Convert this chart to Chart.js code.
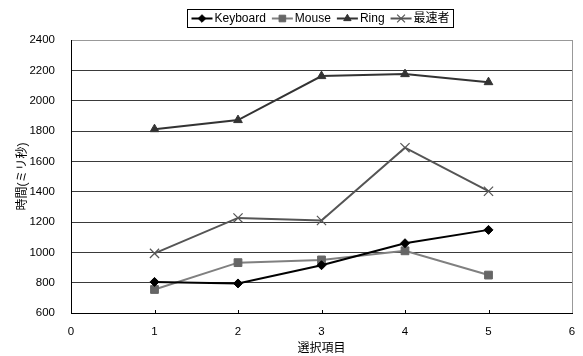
<!DOCTYPE html>
<html>
<head>
<meta charset="utf-8">
<script src="https://cdn.jsdelivr.net/npm/chart.js@4/dist/chart.umd.min.js"></script>
<style>
  html, body { margin: 0; padding: 0; background: #fff; }
  #wrap { width: 583px; height: 356px; }
</style>
</head>
<body>
<div id="wrap"><canvas id="c" width="583" height="356"></canvas></div>
<script>
// Response time per selection item, by input method
const xValues = [1, 2, 3, 4, 5];
const seriesNames = ['Keyboard', 'Mouse', 'Ring', '最速者'];
const keyboard = [805, 795, 915, 1060, 1148];
const mouse = [755, 932, 950, 1010, 850];
const ring = [1812, 1872, 2162, 2175, 2122];
const fastest = [993, 1227, 1210, 1690, 1403];
const yMin = 600, yMax = 2400, yStep = 200;
const xMin = 0, xMax = 6, xStep = 1;
const xTitle = '選択項目';
const yTitle = '時間(ミリ秒)';

const FONT = '"Liberation Sans", "Noto Sans CJK JP", sans-serif';
Chart.defaults.font.family = FONT;
Chart.defaults.color = '#000';

const styles = [
  { line: '#000000', fill: '#000000', point: 'rectRot', r: 4.5, pbw: 1 },
  { line: '#808080', fill: '#666666', point: 'rect', r: 5.5, pbw: 1 },
  { line: '#333333', fill: '#333333', point: 'triangle', r: 5, pbw: 1 },
  { line: '#555555', fill: 'rgba(0,0,0,0)', point: 'crossRot', r: 6.5, pbw: 1.2 }
];
const values = [keyboard, mouse, ring, fastest];

const datasets = seriesNames.map((name, i) => ({
  label: name,
  data: xValues.map((x, j) => ({ x: x, y: values[i][j] })),
  borderColor: styles[i].line,
  backgroundColor: styles[i].fill,
  borderWidth: 2,
  pointStyle: styles[i].point,
  pointRadius: styles[i].r,
  pointHoverRadius: styles[i].r,
  pointBackgroundColor: styles[i].fill,
  pointBorderColor: i === 3 ? styles[i].line : styles[i].fill,
  pointBorderWidth: styles[i].pbw,
  tension: 0,
  fill: false
}));

// Boxed legend with a line-and-marker sample per series
const boxedLegend = {
  id: 'boxedLegend',
  afterDraw(chart) {
    const ctx = chart.ctx;
    ctx.save();
    ctx.font = '12px ' + FONT;
    const symW = 21, gapAfterSym = 2, gapItem = 6, pad = 4;
    const widths = chart.data.datasets.map(ds => ctx.measureText(ds.label).width);
    let total = pad * 2;
    widths.forEach((w, i) => { total += symW + gapAfterSym + w + (i < widths.length - 1 ? gapItem : 0); });
    const cx = 320;
    const top = 9, h = 18;
    let x = Math.round(cx - total / 2) + 0.5;
    ctx.strokeStyle = '#000';
    ctx.lineWidth = 1;
    ctx.strokeRect(x, top + 0.5, Math.round(total), h);
    let px = x + pad;
    const midY = top + h / 2 + 0.5;
    chart.data.datasets.forEach((ds, i) => {
      ctx.strokeStyle = ds.borderColor;
      ctx.lineWidth = 2;
      ctx.beginPath();
      ctx.moveTo(px, midY);
      ctx.lineTo(px + symW, midY);
      ctx.stroke();
      ctx.fillStyle = ds.pointBackgroundColor;
      ctx.strokeStyle = ds.pointBorderColor;
      ctx.lineWidth = ds.pointBorderWidth;
      Chart.helpers.drawPoint(ctx, { pointStyle: ds.pointStyle, radius: ds.pointRadius * 0.85, rotation: 0, borderWidth: ds.pointBorderWidth }, px + symW / 2, midY);
      ctx.fillStyle = '#000';
      ctx.textBaseline = 'middle';
      ctx.textAlign = 'left';
      ctx.fillText(ds.label, px + symW + gapAfterSym, midY);
      px += symW + gapAfterSym + widths[i] + gapItem;
    });
    ctx.restore();
  }
};

// Short inward tick marks along the bottom axis
const innerTicks = {
  id: 'innerTicks',
  beforeDatasetsDraw(chart) {
    const ctx = chart.ctx, xs = chart.scales.x, area = chart.chartArea;
    ctx.save();
    ctx.strokeStyle = '#000';
    ctx.lineWidth = 1;
    xs.ticks.forEach(t => {
      if (t.value <= xMin || t.value >= xMax) return;
      const px = Math.round(xs.getPixelForValue(t.value)) + 0.5;
      ctx.beginPath();
      ctx.moveTo(px, area.bottom);
      ctx.lineTo(px, area.bottom - 3);
      ctx.stroke();
    });
    ctx.restore();
  }
};

new Chart(document.getElementById('c'), {
  type: 'line',
  data: { datasets: datasets },
  options: {
    responsive: false,
    animation: false,
    devicePixelRatio: 1,
    layout: { padding: { top: 40, right: 11, left: 0, bottom: 0 } },
    plugins: {
      legend: { display: false },
      tooltip: { enabled: false }
    },
    scales: {
      x: {
        type: 'linear',
        min: xMin, max: xMax,
        ticks: { stepSize: xStep, padding: 0, font: { size: 11.5 }, color: '#000', callback: v => String(v) },
        grid: {
          drawTicks: true,
          tickLength: 12,
          tickColor: 'rgba(0,0,0,0)',
          color: ctx => (ctx.tick && ctx.tick.value === xMax) ? '#999999' : 'rgba(0,0,0,0)',
          lineWidth: 1
        },
        border: { display: true, color: '#000', width: 1 },
        title: { display: true, text: xTitle, font: { size: 12 }, color: '#000', padding: { top: 0, bottom: 0 } },
        afterFit(scale) { scale.height = 43; }
      },
      y: {
        min: yMin, max: yMax,
        ticks: { stepSize: yStep, padding: 16, font: { size: 11.5 }, color: '#000', callback: v => String(v) },
        grid: {
          drawTicks: false,
          color: ctx => (ctx.tick && ctx.tick.value === yMax) ? '#999999' : '#3a3a3a',
          lineWidth: 1
        },
        border: { display: true, color: '#000', width: 1 },
        title: { display: true, text: yTitle, font: { size: 12 }, color: '#000', padding: { top: 15, bottom: 0 } },
        afterFit(scale) { scale.width = 71; }
      }
    }
  },
  plugins: [innerTicks, boxedLegend]
});
</script>
</body>
</html>
